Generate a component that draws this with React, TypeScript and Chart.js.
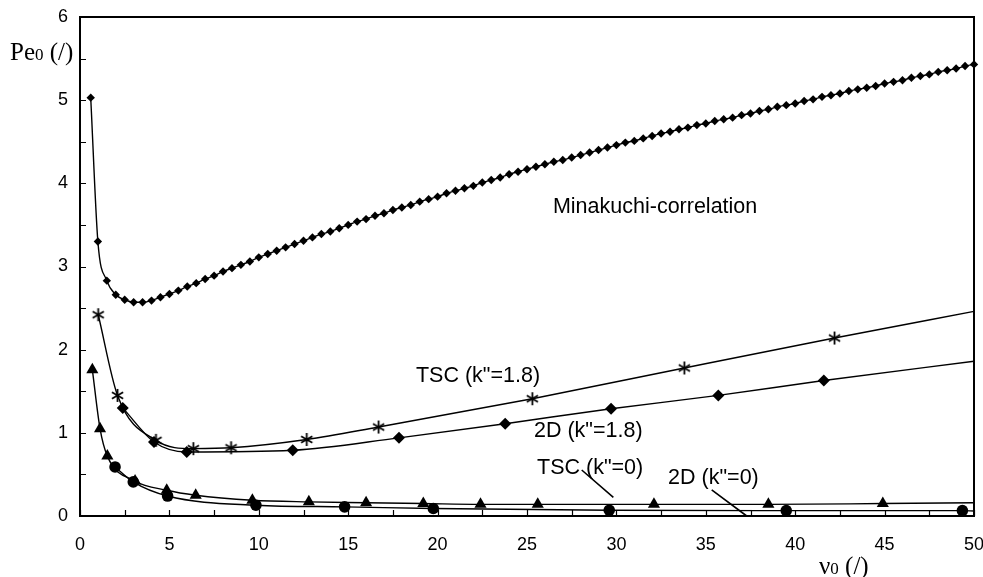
import React, { useEffect, useRef } from 'react';
import { Chart, registerables } from 'chart.js';

Chart.register(...registerables);

// ---------- data ----------
const minakuchiX = [0.6, 1, 1.5, 2, 2.5, 3, 3.5, 4, 4.5, 5, 5.5, 6, 6.5, 7, 7.5, 8, 8.5, 9, 9.5, 10,
  10.5, 11, 11.5, 12, 12.5, 13, 13.5, 14, 14.5, 15, 15.5, 16, 16.5, 17, 17.5, 18, 18.5, 19, 19.5, 20,
  20.5, 21, 21.5, 22, 22.5, 23, 23.5, 24, 24.5, 25, 25.5, 26, 26.5, 27, 27.5, 28, 28.5, 29, 29.5, 30,
  30.5, 31, 31.5, 32, 32.5, 33, 33.5, 34, 34.5, 35, 35.5, 36, 36.5, 37, 37.5, 38, 38.5, 39, 39.5, 40,
  40.5, 41, 41.5, 42, 42.5, 43, 43.5, 44, 44.5, 45, 45.5, 46, 46.5, 47, 47.5, 48, 48.5, 49, 49.5, 50];
const minakuchiY = [5.03, 3.30, 2.83, 2.66, 2.60, 2.57, 2.57, 2.59, 2.63, 2.67,
  2.71, 2.76, 2.80, 2.85, 2.89, 2.94, 2.98, 3.02, 3.06, 3.11,
  3.15, 3.19, 3.23, 3.27, 3.31, 3.35, 3.39, 3.42, 3.46, 3.50,
  3.54, 3.57, 3.61, 3.64, 3.68, 3.71, 3.74, 3.78, 3.81, 3.84,
  3.88, 3.91, 3.94, 3.97, 4.01, 4.04, 4.07, 4.11, 4.14, 4.17,
  4.20, 4.23, 4.26, 4.28, 4.31, 4.34, 4.37, 4.40, 4.43, 4.46,
  4.49, 4.51, 4.54, 4.57, 4.60, 4.62, 4.65, 4.67, 4.70, 4.72,
  4.75, 4.77, 4.79, 4.82, 4.84, 4.87, 4.89, 4.92, 4.94, 4.96,
  4.99, 5.01, 5.04, 5.06, 5.08, 5.11, 5.13, 5.15, 5.17, 5.20,
  5.22, 5.24, 5.27, 5.29, 5.31, 5.34, 5.36, 5.38, 5.41, 5.43];

const tsc18X = [1.02, 2.1, 4.25, 6.34, 8.45, 12.68, 16.7, 25.3, 33.8, 42.2, 50];
const tsc18Y = [2.42, 1.45, 0.91, 0.81, 0.82, 0.92, 1.07, 1.41, 1.78, 2.14, 2.46];

const d18X = [2.39, 4.14, 5.97, 11.9, 17.84, 23.78, 29.7, 35.7, 41.6, 50];
const d18Y = [1.30, 0.89, 0.77, 0.79, 0.94, 1.11, 1.29, 1.45, 1.63, 1.86];

const tsc0X = [0.69, 1.12, 1.53, 3.08, 4.85, 6.47, 9.64, 12.8, 16.0, 19.2, 22.4, 25.6, 32.1, 38.5, 44.9, 50];
const tsc0Y = [1.76, 1.05, 0.72, 0.42, 0.31, 0.25, 0.19, 0.17, 0.16, 0.15, 0.14, 0.14, 0.14, 0.14, 0.15, 0.16];

const d0X = [1.96, 2.98, 4.9, 9.84, 14.8, 19.76, 29.6, 39.5, 49.35, 50];
const d0Y = [0.59, 0.41, 0.24, 0.13, 0.11, 0.09, 0.07, 0.065, 0.065, 0.06];

const xMin = 0, xMax = 50, xStep = 5, xMinorStep = 2.5;
const yMin = 0, yMax = 6, yStep = 1, yMinorStep = 0.5;

// annotation labels (data coordinates: left edge, vertical middle)
const labelTexts = ['Minakuchi-correlation', 'TSC (k"=1.8)', '2D (k"=1.8)', 'TSC (k"=0)', '2D (k"=0)'];
const labelX = [26.45, 18.79, 25.39, 25.56, 32.89];
const labelY = [3.715, 1.677, 1.016, 0.571, 0.451];

// leader lines [x1, y1, x2, y2] in data coordinates
const leaderTSC0 = [28.06, 0.553, 29.83, 0.225];
const leaderD0 = [35.33, 0.313, 37.29, 0.0];

const SANS = '"Liberation Sans", Arial, Helvetica, sans-serif';
const SERIF = '"Liberation Serif", "Times New Roman", serif';

function pts(xs: number[], ys: number[]) {
  return xs.map((x, i) => ({ x, y: ys[i] }));
}

function makeAsterisk(size: number, lw: number) {
  const c = document.createElement('canvas');
  c.width = size;
  c.height = size;
  const g = c.getContext('2d')!;
  g.strokeStyle = '#000';
  g.lineWidth = lw;
  g.lineCap = 'butt';
  const cx = size / 2, cy = size / 2, r = size / 2 - 1;
  g.beginPath();
  for (let k = 0; k < 3; k++) {
    const ang = Math.PI / 2 + (k * Math.PI) / 3;
    g.moveTo(cx + r * Math.cos(ang), cy + r * Math.sin(ang));
    g.lineTo(cx - r * Math.cos(ang), cy - r * Math.sin(ang));
  }
  g.stroke();
  return c;
}

const overlayPlugin = {
  id: 'overlay',
  afterDraw(chart: any) {
    const { ctx, chartArea: a } = chart;
    const xs = chart.scales.x;
    const ys = chart.scales.y;
    ctx.save();
    ctx.strokeStyle = '#000';
    ctx.fillStyle = '#000';

    // frame
    ctx.lineWidth = 2;
    ctx.strokeRect(a.left, a.top, a.right - a.left, a.bottom - a.top);

    // inward tick marks
    ctx.lineWidth = 1.2;
    ctx.beginPath();
    for (let v = xMin; v <= xMax + 1e-9; v += xMinorStep) {
      const px = Math.round(xs.getPixelForValue(v)) + 0.5;
      ctx.moveTo(px, a.bottom);
      ctx.lineTo(px, a.bottom - 6);
    }
    for (let v = yMin; v <= yMax + 1e-9; v += yMinorStep) {
      const py = Math.round(ys.getPixelForValue(v)) + 0.5;
      ctx.moveTo(a.left, py);
      ctx.lineTo(a.left + 6, py);
    }
    ctx.stroke();

    // annotations
    ctx.font = `21.5px ${SANS}`;
    ctx.textAlign = 'left';
    ctx.textBaseline = 'middle';
    labelTexts.forEach((t, i) => {
      ctx.fillText(t, xs.getPixelForValue(labelX[i]), ys.getPixelForValue(labelY[i]));
    });

    // leader lines
    ctx.lineWidth = 1.6;
    ctx.beginPath();
    [leaderTSC0, leaderD0].forEach((l) => {
      ctx.moveTo(xs.getPixelForValue(l[0]), ys.getPixelForValue(l[1]));
      ctx.lineTo(xs.getPixelForValue(l[2]), ys.getPixelForValue(l[3]));
    });
    ctx.stroke();

    // axis titles
    ctx.textBaseline = 'alphabetic';
    ctx.textAlign = 'left';
    const drawTitle = (main: string, sub: string, rest: string, x0: number, base: number) => {
      ctx.font = `25px ${SERIF}`;
      ctx.fillText(main, x0, base);
      let x = x0 + ctx.measureText(main).width;
      ctx.font = `17px ${SERIF}`;
      ctx.fillText(sub, x, base);
      x += ctx.measureText(sub).width;
      ctx.font = `25px ${SERIF}`;
      ctx.fillText(rest, x, base);
    };
    drawTitle('Pe', '0', ' (/)', 10, 60);
    drawTitle('\u03BD', '0', ' (/)', 819, 574);

    ctx.restore();
  },
};

export default function App() {
  const ref = useRef<HTMLCanvasElement>(null);

  useEffect(() => {
    document.body.style.margin = '0';
    const canvas = ref.current!;
    const star = makeAsterisk(15, 1.8);
    const lastZero = (r: number, n: number) => (c: any) => (c.dataIndex === n - 1 ? 0 : r);

    const common = {
      showLine: true,
      borderColor: '#000',
      backgroundColor: '#000',
      pointBorderColor: '#000',
      pointBackgroundColor: '#000',
      borderWidth: 1.4,
      cubicInterpolationMode: 'monotone' as const,
      clip: false as const,
    };

    const chart = new Chart(canvas, {
      type: 'scatter',
      data: {
        datasets: [
          {
            ...common,
            label: 'Minakuchi-correlation',
            data: pts(minakuchiX, minakuchiY),
            pointStyle: 'rectRot',
            pointRadius: 4.2,
            pointBorderWidth: 0,
          },
          {
            ...common,
            label: 'TSC (k"=1.8)',
            data: pts(tsc18X, tsc18Y),
            pointStyle: star as any,
            pointRadius: lastZero(7, tsc18X.length),
          },
          {
            ...common,
            label: '2D (k"=1.8)',
            data: pts(d18X, d18Y),
            pointStyle: 'rectRot',
            pointRadius: lastZero(6, d18X.length),
            pointBorderWidth: 0,
          },
          {
            ...common,
            label: 'TSC (k"=0)',
            data: pts(tsc0X, tsc0Y),
            pointStyle: 'triangle',
            pointRadius: lastZero(7, tsc0X.length),
            pointBorderWidth: 0,
          },
          {
            ...common,
            label: '2D (k"=0)',
            data: pts(d0X, d0Y),
            pointStyle: 'circle',
            pointRadius: lastZero(5.8, d0X.length),
            pointBorderWidth: 0,
          },
        ],
      },
      options: {
        responsive: false,
        maintainAspectRatio: false,
        animation: false,
        events: [],
        layout: { padding: { left: 0, top: 17, right: 9, bottom: 0 } },
        plugins: {
          legend: { display: false },
          tooltip: { enabled: false },
          title: { display: false },
        },
        scales: {
          x: {
            type: 'linear',
            min: xMin,
            max: xMax,
            grid: { display: false, drawTicks: false },
            border: { display: false },
            ticks: {
              stepSize: xStep,
              autoSkip: false,
              maxRotation: 0,
              padding: 18,
              color: '#000',
              font: { family: SANS, size: 18 },
            },
            afterFit: (s: any) => {
              s.height = 61;
              s.paddingLeft = 0;
              s.paddingRight = 0;
            },
          },
          y: {
            type: 'linear',
            min: yMin,
            max: yMax,
            grid: { display: false, drawTicks: false },
            border: { display: false },
            ticks: {
              stepSize: yStep,
              autoSkip: false,
              padding: 12,
              color: '#000',
              font: { family: SANS, size: 18 },
            },
            afterFit: (s: any) => {
              s.width = 80;
              s.paddingTop = 0;
              s.paddingBottom = 0;
            },
          },
        },
      },
      plugins: [overlayPlugin],
    });

    return () => chart.destroy();
  }, []);

  return (
    <div style={{ width: 983, height: 577, background: '#fff' }}>
      <canvas ref={ref} width={983} height={577} style={{ display: 'block' }} />
    </div>
  );
}
